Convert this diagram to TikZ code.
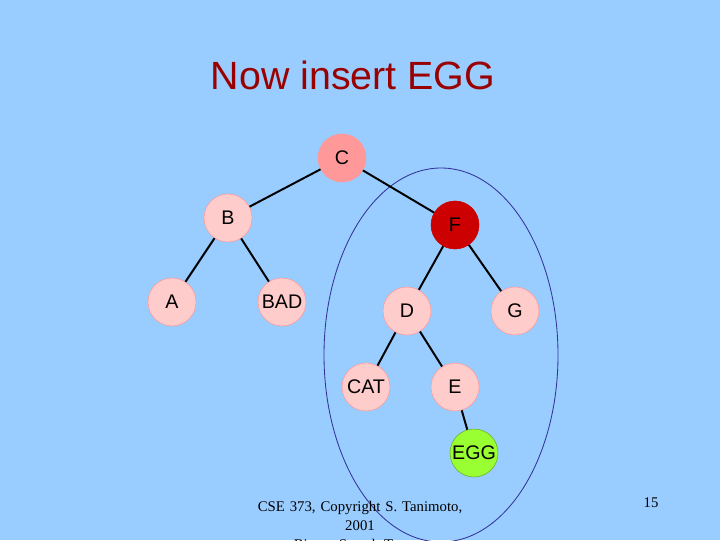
\documentclass[tikz,border=0pt]{standalone}
\usepackage{fontspec}
\setmainfont{Liberation Serif}
\newfontfamily\arialfont{Liberation Sans}
\usetikzlibrary{positioning}
\definecolor{slidebg}{HTML}{99CCFF}
\definecolor{titlered}{HTML}{990000}
\definecolor{lightpink}{HTML}{FFCCCC}
\definecolor{salmon}{HTML}{FF9999}
\definecolor{darkred}{HTML}{CC0000}
\definecolor{eggreen}{HTML}{99FF33}
\definecolor{ringblue}{HTML}{333399}
\begin{document}
\begin{tikzpicture}[x=0.025cm, y=-0.025cm,
    key/.style={circle, draw=salmon, fill=lightpink, minimum size=48*0.025cm, inner sep=0pt, font=\arialfont\fontsize{14}{16}\selectfont},
    edge/.style={draw=black, line width=1.4pt}
]
\clip (0,0) rectangle (720,540);
\fill[slidebg] (0,0) rectangle (720,540);

% Title
\node[text=titlered, font=\arialfont\fontsize{28}{32}\selectfont] (title) at (353,75) {Now insert EGG};

% Subtree ring
\draw[ringblue, line width=0.6pt] (441,355) ellipse (117 and 187);

% Keys
\node[key, fill=salmon] (c) at (342,158) {C};
\node[key] (b) at (228,218) {B};
\node[key, fill=darkred, draw=darkred] (f) at (455,225) {F};
\node[key] (a) at (172,302) {A};
\node[key] (bad) at (282,302) {BAD};
\node[key] (d) at (407,311) {D};
\node[key] (g) at (515,311) {G};
\node[key] (cat) at (366,387) {CAT};
\node[key] (e) at (455,387) {E};
\node[key, fill=eggreen, draw=eggreen!70!black] (egg) at (474,453) {EGG};

% Links
\draw[edge] (c) -- (b);
\draw[edge] (c) -- (f);
\draw[edge] (b) -- (a);
\draw[edge] (b) -- (bad);
\draw[edge] (f) -- (d);
\draw[edge] (f) -- (g);
\draw[edge] (d) -- (cat);
\draw[edge] (d) -- (e);
\draw[edge] (e) -- (egg);

% Footer
\node[text width=6.5cm, align=center, anchor=north, font=\fontsize{10.5}{13.5}\selectfont] (foot) at (360,496) {CSE 373, Copyright S. Tanimoto,\\2001\\Binary Search Trees -};
\node[font=\fontsize{10.5}{13}\selectfont] (page) at (651,503) {15};
\end{tikzpicture}
\end{document}
